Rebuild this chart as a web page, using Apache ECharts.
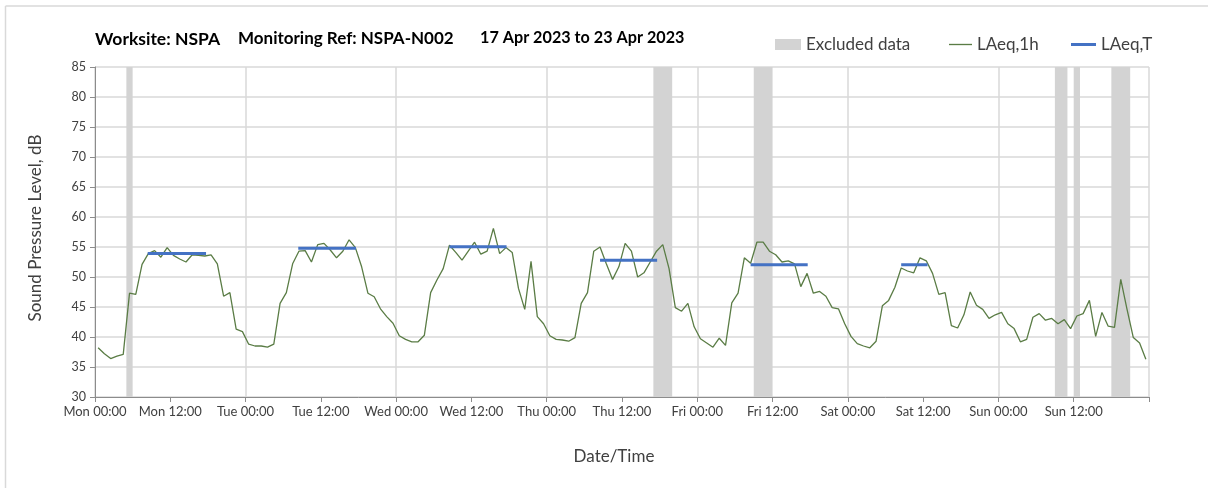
<!DOCTYPE html>
<html>
<head>
<meta charset="utf-8">
<script src="https://cdn.jsdelivr.net/npm/echarts@6/dist/echarts.min.js"></script>
<style>
html,body{margin:0;padding:0;background:#fff;}
#chart{width:1208px;height:488px;}
</style>
</head>
<body>
<div id="chart"></div>
<script>
// ---- data ----
const tickLabels = ['Mon 00:00','Mon 12:00','Tue 00:00','Tue 12:00','Wed 00:00','Wed 12:00','Thu 00:00','Thu 12:00','Fri 00:00','Fri 12:00','Sat 00:00','Sat 12:00','Sun 00:00','Sun 12:00'];
// hourly LAeq,1h values, hour 0 = Mon 00:00 (plotted at mid-hour)
const laeq1h = [
38.2,37.2,36.4,36.8,37.1,47.3,47.1,52.1,53.9,54.4,53.3,54.9,53.6,53.0,52.5,53.7,53.6,53.5,53.7,52.2,46.8,47.4,41.3,40.9,
38.8,38.5,38.5,38.3,38.8,45.6,47.4,52.2,54.3,54.4,52.5,55.4,55.6,54.5,53.2,54.3,56.2,54.9,51.7,47.3,46.7,44.7,43.4,42.3,
40.2,39.6,39.2,39.2,40.3,47.4,49.5,51.4,55.3,54.1,52.8,54.3,55.8,53.8,54.3,58.1,53.9,54.9,54.1,48.1,44.6,52.6,43.4,42.2,
40.2,39.6,39.5,39.3,39.9,45.6,47.4,54.3,55.0,52.2,49.6,51.7,55.6,54.3,50.0,50.7,52.5,54.3,55.4,51.4,44.9,44.3,45.6,41.7,
39.7,39.0,38.3,39.8,38.6,45.7,47.3,53.2,52.3,55.8,55.8,54.3,53.7,52.5,52.7,52.2,48.4,50.6,47.3,47.6,46.8,44.9,44.7,42.2,
40.1,38.9,38.5,38.2,39.3,45.2,46.1,48.3,51.5,51.0,50.7,53.2,52.7,50.6,47.1,47.4,41.9,41.5,43.7,47.5,45.3,44.6,43.1,43.7,
44.1,42.2,41.4,39.2,39.6,43.3,43.9,42.8,43.1,42.2,42.9,41.4,43.5,43.9,46.1,40.1,44.1,41.8,41.6,49.6,44.6,39.9,39.0,36.3
];
// LAeq,T periods (hours from Mon 00:00) and levels
const laeqTStart = [8.4, 32.4, 56.5, 80.5, 104.5, 128.5];
const laeqTEnd   = [17.7, 41.6, 65.6, 89.6, 113.6, 132.7];
const laeqTValue = [53.9, 54.8, 55.05, 52.8, 52.05, 52.05];
// excluded data periods (hours)
const exclStart = [5, 89, 105, 153, 156, 162];
const exclEnd   = [6, 92, 108, 155, 157, 165];

const Y_MIN = 30, Y_MAX = 85;
const FONT = 'Lato, "Noto Sans", sans-serif';

const lineData = laeq1h.map((v, i) => [i + 0.5, v]);
const tData = [];
laeqTStart.forEach((s, i) => {
  tData.push([s, laeqTValue[i]]);
  tData.push([laeqTEnd[i], laeqTValue[i]]);
  tData.push([laeqTEnd[i], '-']);
});
const exclData = exclStart.map((s, i) => [s, exclEnd[i]]);

const chart = echarts.init(document.getElementById('chart'), null, {renderer: 'canvas'});
const titleStyle = {fontFamily: FONT, fontSize: 17, fontWeight: 'bold', color: '#000'};
chart.setOption({
  animation: false,
  backgroundColor: '#fff',
  textStyle: {fontFamily: FONT},
  title: [
    {text: 'Worksite: NSPA', left: 95, top: 30, padding: 0, textStyle: Object.assign({}, titleStyle, {fontSize: 17.5})},
    {text: 'Monitoring Ref: NSPA-N002', left: 238, top: 30, padding: 0, textStyle: titleStyle},
    {text: '17 Apr 2023 to 23 Apr 2023', left: 480, top: 30, padding: 0, textStyle: Object.assign({}, titleStyle, {fontSize: 16.2})}
  ],
  legend: [
    {data: [{name: 'Excluded data', icon: 'rect'}], left: 775, top: 36, padding: 0, itemWidth: 26, itemHeight: 11,
     textStyle: {fontFamily: FONT, fontSize: 17, color: '#404040'}},
    {data: [{name: 'LAeq,1h', icon: 'path://M0,0H24V1.4H0Z'}], left: 949, top: 36, padding: 0, itemWidth: 23, itemHeight: 11,
     textStyle: {fontFamily: FONT, fontSize: 17, color: '#404040'}},
    {data: [{name: 'LAeq,T', icon: 'path://M0,0H25V3H0Z'}], left: 1071, top: 36, padding: 0, itemWidth: 25, itemHeight: 11,
     textStyle: {fontFamily: FONT, fontSize: 17, color: '#404040'}}
  ],
  grid: {left: 95, right: 59, top: 67, bottom: 91, containLabel: false},
  xAxis: {
    type: 'value', min: 0, max: 168, interval: 12,
    name: 'Date/Time', nameLocation: 'middle', nameGap: 51,
    nameTextStyle: {fontFamily: FONT, fontSize: 17, color: '#404040', padding: [0, 16, 0, 0]},
    axisLine: {show: true, lineStyle: {color: '#8c8c8c', width: 1}},
    axisTick: {show: true, length: 5, lineStyle: {color: '#8c8c8c'}},
    axisLabel: {
      margin: 8, fontFamily: FONT, fontSize: 13, color: '#404040',
      formatter: v => tickLabels[Math.round(v / 12)] || ''
    },
    splitLine: {show: true, showMinLine: true, showMaxLine: true, lineStyle: {color: ['#d9d9d9', 'rgba(0,0,0,0)'], width: 1.5}}
  },
  yAxis: {
    type: 'value', min: Y_MIN, max: Y_MAX, interval: 5,
    name: 'Sound Pressure Level, dB', nameLocation: 'middle', nameGap: 51, nameRotate: 90,
    nameTextStyle: {fontFamily: FONT, fontSize: 17, color: '#404040', padding: [0, 0, 0, 8]},
    axisLine: {show: true, lineStyle: {color: '#8c8c8c', width: 1}},
    axisTick: {show: true, length: 5, lineStyle: {color: '#8c8c8c'}},
    axisLabel: {margin: 9, fontFamily: FONT, fontSize: 12.5, color: '#404040'},
    splitLine: {show: true, lineStyle: {color: '#d9d9d9', width: 1.5}}
  },
  graphic: [
    {type: 'line', shape: {x1: 5.5, y1: 6, x2: 1208, y2: 6}, style: {stroke: '#d9d9d9', lineWidth: 1.5}, silent: true},
    {type: 'line', shape: {x1: 5.5, y1: 6, x2: 5.5, y2: 488}, style: {stroke: '#d9d9d9', lineWidth: 1.5}, silent: true}
  ],
  series: [
    {
      name: 'Excluded data', type: 'custom', z: 1,
      itemStyle: {color: '#d3d3d3'},
      encode: {x: [0, 1]},
      data: exclData,
      renderItem: function (params, api) {
        const p1 = api.coord([api.value(0), Y_MAX]);
        const p2 = api.coord([api.value(1), Y_MIN]);
        return {
          type: 'rect',
          shape: {x: p1[0], y: p1[1], width: p2[0] - p1[0], height: p2[1] - p1[1]},
          style: {fill: '#d3d3d3'}
        };
      }
    },
    {
      name: 'LAeq,1h', type: 'line', z: 3, data: lineData,
      symbol: 'none', showSymbol: false,
      lineStyle: {color: '#5a7c45', width: 1.3},
      itemStyle: {color: '#5a7c45'}
    },
    {
      name: 'LAeq,T', type: 'line', z: 4, data: tData,
      symbol: 'none', showSymbol: false, connectNulls: false,
      lineStyle: {color: '#4472c4', width: 3},
      itemStyle: {color: '#4472c4'}
    }
  ]
});
</script>
</body>
</html>
